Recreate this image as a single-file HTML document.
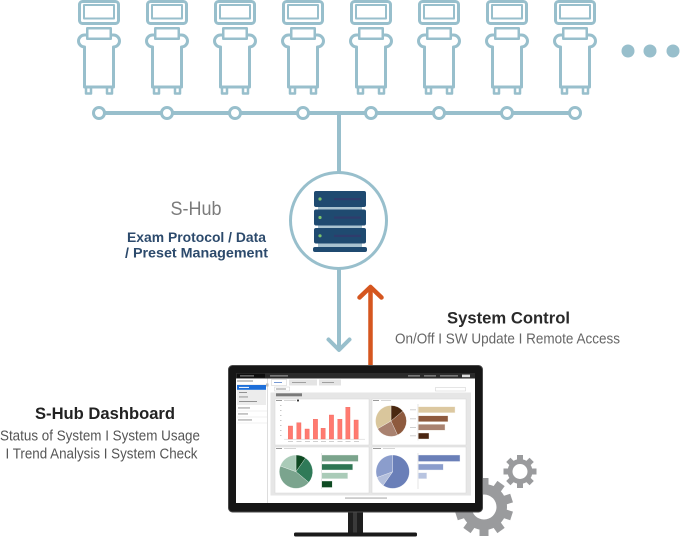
<!DOCTYPE html>
<html><head><meta charset="utf-8"><style>
html,body{margin:0;padding:0;background:#fff;}
svg{display:block;font-family:"Liberation Sans",sans-serif;}
</style></head><body>
<svg width="680" height="537" viewBox="0 0 680 537" xmlns="http://www.w3.org/2000/svg">
<defs>
<g id="dev" fill="#fff" stroke="#98bfcc" stroke-linejoin="round">
  <rect x="-19.5" y="1.5" width="39" height="22" rx="3" stroke-width="3"/>
  <rect x="-15" y="5" width="30" height="13.5" stroke-width="2"/>
  <path d="M-14.5 87 V47 A6 6 0 0 1 -14.5 35 H14.5 A6 6 0 0 1 14.5 47 V87 Z" stroke-width="3"/>
  <rect x="-11.75" y="28.25" width="23.5" height="10.5" stroke-width="2.5"/>
  <path d="M-13 87 V93.5 H-8 V87 M8 87 V93.5 H13 V87" stroke-width="2.5" fill="none"/>
</g>
</defs>

<!-- devices -->
<use href="#dev" x="99"/>
<use href="#dev" x="167"/>
<use href="#dev" x="235"/>
<use href="#dev" x="303"/>
<use href="#dev" x="371"/>
<use href="#dev" x="439"/>
<use href="#dev" x="507"/>
<use href="#dev" x="575"/>

<!-- dots -->
<circle cx="628" cy="51" r="6.5" fill="#98bfcc"/>
<circle cx="650" cy="51" r="6.5" fill="#98bfcc"/>
<circle cx="673" cy="51" r="6.5" fill="#98bfcc"/>

<!-- bus -->
<line x1="99" y1="113" x2="575" y2="113" stroke="#98bfcc" stroke-width="4"/>
<line x1="339" y1="113" x2="339" y2="173" stroke="#98bfcc" stroke-width="4"/>
<g fill="#fff" stroke="#98bfcc" stroke-width="3">
<circle cx="99" cy="113" r="5.5"/><circle cx="167" cy="113" r="5.5"/><circle cx="235" cy="113" r="5.5"/><circle cx="303" cy="113" r="5.5"/>
<circle cx="371" cy="113" r="5.5"/><circle cx="439" cy="113" r="5.5"/><circle cx="507" cy="113" r="5.5"/><circle cx="575" cy="113" r="5.5"/>
</g>

<!-- hub circle -->
<circle cx="338.5" cy="220.5" r="48" fill="#fff" stroke="#98bfcc" stroke-width="3"/>
<!-- server -->
<rect x="318" y="205" width="44" height="42" fill="#a9c3d0"/>
<rect x="314" y="191" width="52" height="16" rx="2" fill="#1f4a70"/>
<rect x="314" y="209.5" width="52" height="16" rx="2" fill="#1f4a70"/>
<rect x="314" y="228" width="52" height="15.5" rx="2" fill="#1f4a70"/>
<rect x="313" y="247" width="54" height="5" rx="2" fill="#1f4a70"/>
<circle cx="320" cy="199" r="1.6" fill="#7cc46c"/>
<circle cx="320" cy="217.5" r="1.6" fill="#7cc46c"/>
<circle cx="320" cy="235.8" r="1.6" fill="#7cc46c"/>
<rect x="334" y="198" width="27" height="2.2" fill="#2f3c6c"/>
<rect x="334" y="216.5" width="27" height="2.2" fill="#2f3c6c"/>
<rect x="334" y="234.8" width="27" height="2.2" fill="#2f3c6c"/>

<!-- down arrow -->
<line x1="339" y1="268" x2="339" y2="349" stroke="#98bfcc" stroke-width="4"/>
<polyline points="328.5,339.5 339,350 349.5,339.5" fill="none" stroke="#98bfcc" stroke-width="4" stroke-linecap="round" stroke-linejoin="round"/>
<!-- up arrow -->
<line x1="370.5" y1="288" x2="370.5" y2="366" stroke="#d5561f" stroke-width="4.5"/>
<polyline points="359.5,297.5 370.5,287 381.5,297.5" fill="none" stroke="#d5561f" stroke-width="4.5" stroke-linecap="round" stroke-linejoin="round"/>

<!-- texts -->
<text x="196" y="215" text-anchor="middle" font-size="19" fill="#7b7b7b" textLength="51" lengthAdjust="spacingAndGlyphs">S-Hub</text>
<text x="196.5" y="242" text-anchor="middle" font-size="13.5" font-weight="bold" fill="#2c4a6c" textLength="139" lengthAdjust="spacingAndGlyphs">Exam Protocol / Data</text>
<text x="196.5" y="257.5" text-anchor="middle" font-size="13.5" font-weight="bold" fill="#2c4a6c" textLength="143" lengthAdjust="spacingAndGlyphs">/ Preset Management</text>

<text x="508.5" y="323.5" text-anchor="middle" font-size="17" font-weight="bold" fill="#2a2a2a" textLength="123" lengthAdjust="spacingAndGlyphs">System Control</text>
<text x="507.5" y="343.5" text-anchor="middle" font-size="14.5" fill="#666" textLength="225" lengthAdjust="spacingAndGlyphs">On/Off I SW Update I Remote Access</text>

<text x="105" y="419" text-anchor="middle" font-size="17" font-weight="bold" fill="#222" textLength="140" lengthAdjust="spacingAndGlyphs">S-Hub Dashboard</text>
<text x="100" y="440.5" text-anchor="middle" font-size="14.5" fill="#555" textLength="200" lengthAdjust="spacingAndGlyphs">Status of System I System Usage</text>
<text x="101.5" y="458.5" text-anchor="middle" font-size="14.5" fill="#555" textLength="192" lengthAdjust="spacingAndGlyphs">I Trend Analysis I System Check</text>

<!-- gears -->
<g fill="#9a9b9d">
  <g transform="translate(484,507)">
    <circle r="23"/>
    <g>
      <rect x="-4.5" y="-29" width="9" height="10"/>
      <rect x="-4.5" y="-29" width="9" height="10" transform="rotate(36)"/>
      <rect x="-4.5" y="-29" width="9" height="10" transform="rotate(72)"/>
      <rect x="-4.5" y="-29" width="9" height="10" transform="rotate(108)"/>
      <rect x="-4.5" y="-29" width="9" height="10" transform="rotate(144)"/>
      <rect x="-4.5" y="-29" width="9" height="10" transform="rotate(180)"/>
      <rect x="-4.5" y="-29" width="9" height="10" transform="rotate(216)"/>
      <rect x="-4.5" y="-29" width="9" height="10" transform="rotate(252)"/>
      <rect x="-4.5" y="-29" width="9" height="10" transform="rotate(288)"/>
      <rect x="-4.5" y="-29" width="9" height="10" transform="rotate(324)"/>
    </g>
    <circle r="12.5" fill="#fff"/>
  </g>
  <g transform="translate(520,471.5)">
    <circle r="12.5"/>
    <rect x="-3" y="-16.5" width="6" height="7"/>
    <rect x="-3" y="-16.5" width="6" height="7" transform="rotate(45)"/>
    <rect x="-3" y="-16.5" width="6" height="7" transform="rotate(90)"/>
    <rect x="-3" y="-16.5" width="6" height="7" transform="rotate(135)"/>
    <rect x="-3" y="-16.5" width="6" height="7" transform="rotate(180)"/>
    <rect x="-3" y="-16.5" width="6" height="7" transform="rotate(225)"/>
    <rect x="-3" y="-16.5" width="6" height="7" transform="rotate(270)"/>
    <rect x="-3" y="-16.5" width="6" height="7" transform="rotate(315)"/>
    <circle r="7.5" fill="#fff"/>
  </g>
</g>

<!-- monitor stand -->
<rect x="348" y="510" width="15" height="24" fill="#1e1e1e"/>
<rect x="353" y="512" width="4" height="21" fill="#3a3a3a"/>
<rect x="294" y="532.5" width="123" height="4" rx="1.5" fill="#1a1a1a"/>
<!-- monitor -->
<rect x="228.5" y="365.5" width="254" height="146.5" rx="4" fill="#161616" stroke="#4a4a4a" stroke-width="1"/>
<rect x="236" y="373" width="239" height="130" fill="#fff"/>

<!-- top bar -->
<rect x="236" y="373" width="239" height="5.5" fill="#2b2b2b"/>
<rect x="237" y="373.8" width="28" height="4" fill="#0e0e0e"/>
<rect x="240" y="375.4" width="14" height="1" fill="#999"/>
<rect x="270" y="375.4" width="18" height="1" fill="#aaa"/>
<rect x="408" y="375.4" width="12" height="1" fill="#aaa"/>
<rect x="424" y="375.4" width="12" height="1" fill="#aaa"/>
<rect x="440" y="375.4" width="18" height="1" fill="#aaa"/>
<rect x="462" y="374.6" width="8" height="2.6" fill="#ddd"/>

<!-- sidebar -->
<line x1="267.5" y1="378.5" x2="267.5" y2="503" stroke="#ddd" stroke-width="1"/>
<rect x="237" y="380.5" width="16" height="1" fill="#888"/>
<line x1="237" y1="384.5" x2="267" y2="384.5" stroke="#e2e2e2" stroke-width="0.6"/>
<rect x="237" y="385" width="29" height="4.8" fill="#1e6fd9"/>
<rect x="239" y="386.9" width="10" height="1" fill="#fff"/>
<rect x="237" y="390" width="29" height="15" fill="#ececec"/>
<rect x="239" y="392" width="8" height="0.9" fill="#888"/>
<rect x="239" y="396.5" width="9" height="0.9" fill="#888"/>
<rect x="239" y="401" width="18" height="0.9" fill="#888"/>
<rect x="238" y="407.5" width="12" height="0.9" fill="#888"/>
<line x1="237" y1="411" x2="267" y2="411" stroke="#e2e2e2" stroke-width="0.6"/>
<rect x="238" y="413.5" width="10" height="0.9" fill="#888"/>
<line x1="237" y1="417" x2="267" y2="417" stroke="#e2e2e2" stroke-width="0.6"/>
<rect x="238" y="419.5" width="14" height="0.9" fill="#888"/>
<line x1="237" y1="423" x2="267" y2="423" stroke="#e2e2e2" stroke-width="0.6"/>
<rect x="266" y="383.5" width="2.5" height="3" fill="#bbb"/>

<!-- tabs -->
<rect x="271.5" y="379.5" width="15" height="6" fill="#fff" stroke="#ccc" stroke-width="0.5"/>
<rect x="274" y="382" width="8" height="0.9" fill="#6a8fd0"/>
<rect x="289" y="379.5" width="28" height="6" fill="#e4e4e4"/>
<rect x="292" y="382" width="14" height="0.9" fill="#999"/>
<rect x="319" y="379.5" width="22" height="6" fill="#e4e4e4"/>
<rect x="322" y="382" width="12" height="0.9" fill="#999"/>
<rect x="274.5" y="387" width="15" height="4" fill="#fff" stroke="#ccc" stroke-width="0.5"/>
<rect x="276" y="388.6" width="10" height="0.8" fill="#777"/>
<rect x="435.5" y="387.5" width="30" height="3.5" fill="#fff" stroke="#ccc" stroke-width="0.5"/>

<!-- gray area -->
<rect x="270.5" y="392.5" width="200.5" height="103" fill="#e6e6e6"/>
<rect x="276" y="393.3" width="26" height="3" fill="#7a7a7a"/>
<g fill="#fff" stroke="#d6d6d6" stroke-width="0.5">
<rect x="275" y="399" width="94" height="46"/>
<rect x="372" y="399" width="94" height="46"/>
<rect x="275" y="447" width="94" height="46"/>
<rect x="372" y="447" width="94" height="46"/>
</g>
<g fill="#999">
<rect x="276" y="400" width="6" height="1"/><rect x="284" y="400" width="12" height="0.8" fill="#ccc"/><rect x="297" y="399.6" width="2" height="1.8" fill="#333"/>
<rect x="373" y="400" width="6" height="1"/><rect x="381" y="400" width="10" height="0.8" fill="#ccc"/>
<rect x="276" y="448" width="6" height="1"/><rect x="284" y="448" width="12" height="0.8" fill="#ccc"/>
<rect x="373" y="448" width="8" height="1"/><rect x="383" y="448" width="12" height="0.8" fill="#ccc"/>
</g>

<!-- bar chart -->
<line x1="284" y1="439.2" x2="365" y2="439.2" stroke="#ccc" stroke-width="0.5"/>
<g fill="#bbb">
<rect x="280" y="405" width="1.5" height="0.8"/><rect x="280" y="410" width="1.5" height="0.8"/><rect x="280" y="415" width="1.5" height="0.8"/><rect x="280" y="420" width="1.5" height="0.8"/><rect x="280" y="425" width="1.5" height="0.8"/><rect x="280" y="430" width="1.5" height="0.8"/><rect x="280" y="435" width="1.5" height="0.8"/>
</g>
<g fill="#ff7a70" stroke="#f0665c" stroke-width="0.4">
<rect x="288.3" y="426" width="4.3" height="13"/>
<rect x="296.7" y="422.7" width="4.3" height="16.3"/>
<rect x="305" y="429" width="4.3" height="10"/>
<rect x="313.3" y="419.3" width="4.3" height="19.7"/>
<rect x="321" y="428.3" width="4.3" height="10.7"/>
<rect x="329.3" y="415" width="4.3" height="24"/>
<rect x="337.7" y="419.3" width="4.3" height="19.7"/>
<rect x="345.7" y="407.3" width="4.3" height="31.7"/>
<rect x="354" y="420" width="4.3" height="19"/>
</g>
<g fill="#bbb">
<rect x="288" y="441" width="5" height="0.7"/><rect x="296.5" y="441" width="5" height="0.7"/><rect x="305" y="441" width="5" height="0.7"/><rect x="313" y="441" width="5" height="0.7"/><rect x="321" y="441" width="5" height="0.7"/><rect x="329" y="441" width="5" height="0.7"/><rect x="337.5" y="441" width="5" height="0.7"/><rect x="345.5" y="441" width="5" height="0.7"/><rect x="354" y="441" width="5" height="0.7"/>
</g>

<!-- brown pie -->
<g stroke="#fff" stroke-width="0.3">
<path d="M391 421 L391 405.5 A15.5 15.5 0 0 1 402.87 411.04 Z" fill="#4a2810"/>
<path d="M391 421 L402.87 411.04 A15.5 15.5 0 0 1 397.55 435.05 Z" fill="#8e5a3e"/>
<path d="M391 421 L397.55 435.05 A15.5 15.5 0 0 1 377.58 428.75 Z" fill="#a98270"/>
<path d="M391 421 L377.58 428.75 A15.5 15.5 0 0 1 391 405.5 Z" fill="#d9c69c"/>
</g>
<line x1="418" y1="404" x2="418" y2="440.5" stroke="#ccc" stroke-width="0.5"/>
<g stroke="#f5f0e8" stroke-width="0.4">
<rect x="418.3" y="406.7" width="36.7" height="6" fill="#dcc8a0"/>
<rect x="418.3" y="415.7" width="29.7" height="6" fill="#8e5a3e"/>
<rect x="418.3" y="424.3" width="26.7" height="6" fill="#a98270"/>
<rect x="418.3" y="433" width="10.7" height="6" fill="#4a2510"/>
</g>
<g fill="#bbb"><rect x="410" y="409.5" width="6" height="0.7"/><rect x="410" y="418.5" width="6" height="0.7"/><rect x="410" y="427" width="6" height="0.7"/><rect x="410" y="435.5" width="6" height="0.7"/></g>

<!-- green pie -->
<g stroke="#fff" stroke-width="0.3">
<path d="M296 471.7 L296 455 A16.7 16.7 0 0 1 305.58 458.02 Z" fill="#0e4a22"/>
<path d="M296 471.7 L305.58 458.02 A16.7 16.7 0 0 1 308.79 482.43 Z" fill="#2f7a58"/>
<path d="M296 471.7 L308.79 482.43 A16.7 16.7 0 0 1 280.31 465.99 Z" fill="#7ba48e"/>
<path d="M296 471.7 L280.31 465.99 A16.7 16.7 0 0 1 296 455 Z" fill="#aacbb8"/>
</g>
<line x1="321.5" y1="453" x2="321.5" y2="489" stroke="#ccc" stroke-width="0.5"/>
<g stroke="#eef3f0" stroke-width="0.4">
<rect x="321.7" y="455" width="36.6" height="6.5" fill="#7ba48c"/>
<rect x="321.7" y="464" width="31" height="6" fill="#2e7553"/>
<rect x="321.7" y="472.7" width="26" height="6" fill="#aacbb8"/>
<rect x="321.7" y="481" width="10.6" height="6.5" fill="#0e4a22"/>
</g>

<!-- blue pie -->
<g stroke="#fff" stroke-width="0.3">
<path d="M392.7 471.7 L392.7 455 A16.7 16.7 0 1 1 383.12 485.38 Z" fill="#6a7fb8"/>
<path d="M392.7 471.7 L383.12 485.38 A16.7 16.7 0 0 1 377.01 477.41 Z" fill="#b3bfdc"/>
<path d="M392.7 471.7 L377.01 477.41 A16.7 16.7 0 0 1 392.7 455 Z" fill="#8b9dcc"/>
</g>
<line x1="418" y1="453" x2="418" y2="489" stroke="#ccc" stroke-width="0.5"/>
<g stroke="#eef0f6" stroke-width="0.4">
<rect x="418.3" y="455" width="41.7" height="6.5" fill="#6a7fb8"/>
<rect x="418.3" y="464" width="25" height="6" fill="#8b9dcc"/>
<rect x="418.3" y="472.7" width="8.4" height="6" fill="#b8c4e0"/>
</g>

<!-- footer -->
<rect x="345" y="497.6" width="42" height="0.9" fill="#999"/>
</svg>
</body></html>
